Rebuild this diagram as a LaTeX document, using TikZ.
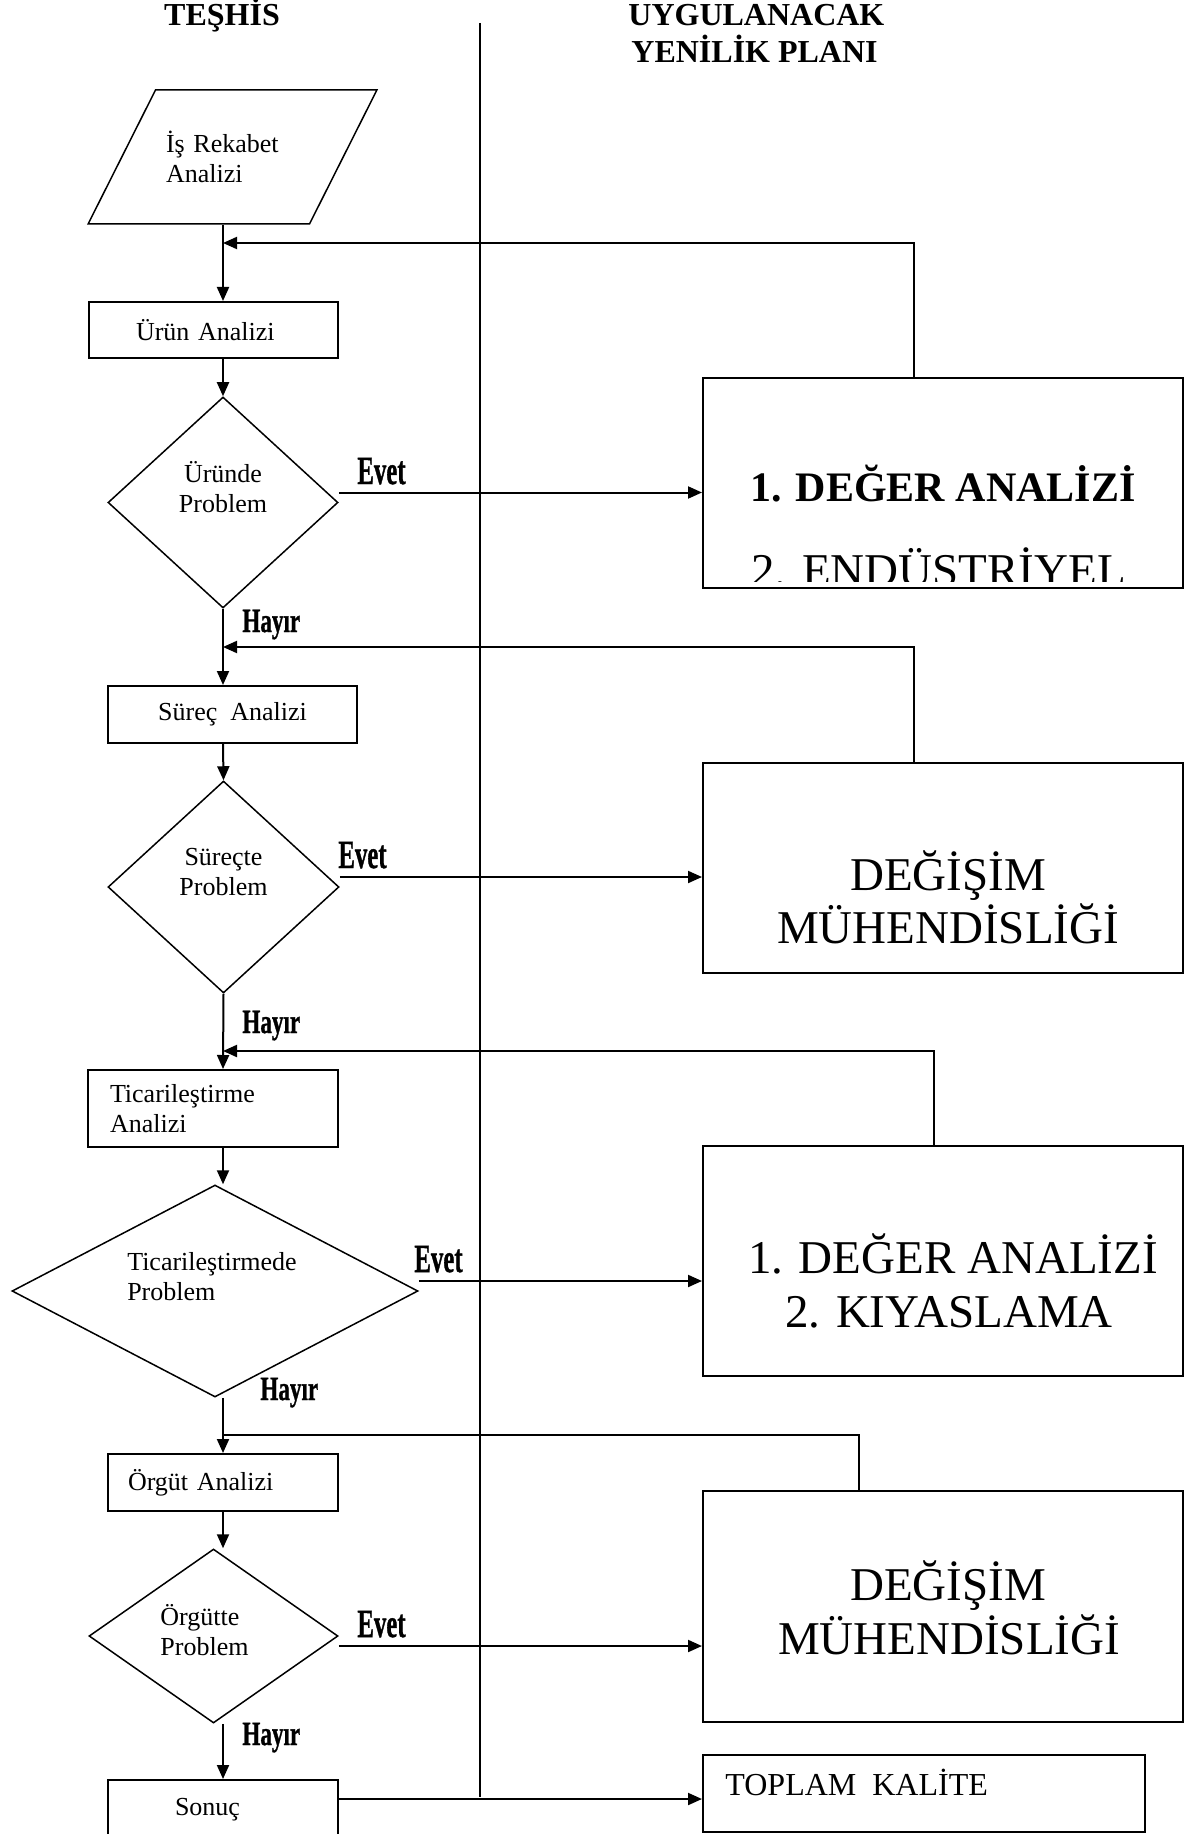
\documentclass[tikz,border=0pt]{standalone}
\usepackage{fontspec}
\setmainfont{Liberation Serif}
\newfontfamily\answerfont[FakeBold=1.2]{Liberation Serif Bold}
\usepackage{graphicx}
\usetikzlibrary{shapes.geometric,arrows.meta}
\newcommand{\narrow}[2]{\scalebox{#1}[1]{#2}}

\begin{document}
\begin{tikzpicture}[x=0.5pt,y=-0.5pt,>={Triangle[length=7pt,width=6pt]}]
  \tikzstyle{small}=[font=\fontsize{13}{15}\selectfont]
  \tikzstyle{box}=[rectangle,draw,line width=1pt,inner sep=0pt,small]
  \tikzstyle{bigbox}=[rectangle,draw,line width=1pt,inner sep=0pt,minimum width=240pt]
  \tikzstyle{decision}=[diamond,draw,line width=0.75pt,inner sep=0pt]
  \tikzstyle{io}=[trapezium,trapezium left angle=41.6,trapezium right angle=138.4,
                  trapezium stretches,draw,line width=0.75pt,inner sep=0pt,small]
  \tikzstyle{title}=[font=\fontsize{16}{18}\bfseries\selectfont,inner sep=0pt,anchor=base]
  \tikzstyle{big}=[font=\fontsize{23.5}{26}\selectfont,inner sep=0pt,anchor=base]
  \tikzstyle{evet}=[font=\fontsize{20}{22}\answerfont,inner sep=0pt,anchor=base west]
  \tikzstyle{hayir}=[font=\fontsize{17}{19}\answerfont,inner sep=0pt,anchor=base west]
  \tikzstyle{flow}=[->,line width=1pt]

  \useasboundingbox (0,0) rectangle (1199,1834);
  \clip (0,0) rectangle (1199,1834);

  % column titles and divider
  \node[title] (teshis) at (222,26) {TEŞHİS};
  \node[title,anchor=base west] (plan1) at (628,26) {UYGULANACAK};
  \node[title,anchor=base west] (plan2) at (631,63) {YENİLİK PLANI};
  \coordinate (divtop) at (480,23);
  \coordinate (divbot) at (480,1797);
  \draw[line width=0.75pt] (divtop) -- (divbot);

  % main line and feedback points
  \coordinate (flow) at (223,0);
  \coordinate (m1) at (223,243);
  \coordinate (m2) at (223,647);
  \coordinate (m3) at (223,1051);
  \coordinate (m4) at (223,1435);
  \coordinate (fb1) at (914,0);
  \coordinate (fb2) at (914,0);
  \coordinate (fb3) at (934,0);
  \coordinate (fb4) at (859,0);

  % left column
  \node[io,minimum width=144.5pt,minimum height=67pt,text width=66.5pt,align=left]
       (rekabet) at (232.5,157) {İş Rekabet\\Analizi};
  \node[box,minimum width=124.5pt,minimum height=28pt,text width=77.5pt,align=left]
       (urun) at (213.5,330) {Ürün Analizi};
  \node[decision,minimum width=115pt,minimum height=105.5pt,
        label={[small,yshift=7.5pt,align=center]center:Üründe\\Problem}]
       (d1) at (223,502.5) {};
  \node[box,minimum width=124.5pt,minimum height=28.5pt]
       (surec) at (232.5,714.5) {Süreç\ \ Analizi};
  \node[decision,minimum width=115.5pt,minimum height=106pt,
        label={[small,yshift=7.5pt,align=center]center:Süreçte\\Problem}]
       (d2) at (223.5,887) {};
  \node[box,minimum width=125pt,minimum height=38.5pt,text width=103pt,align=left]
       (ticaret) at (213,1108.5) {Ticarileştirme\\Analizi};
  \node[decision,minimum width=203pt,minimum height=106pt,
        label={[small,yshift=7pt,xshift=-1.5pt,align=left]center:Ticarileştirmede\\Problem}]
       (d3) at (215,1291) {};
  \node[box,minimum width=115pt,minimum height=28.5pt,text width=95pt,align=left]
       (orgut) at (223,1482.5) {Örgüt Analizi};
  \node[decision,minimum width=124.5pt,minimum height=87pt,
        label={[small,yshift=3pt,xshift=-4.5pt,align=left]center:Örgütte\\Problem}]
       (d4) at (213.5,1636) {};
  \node[box,minimum width=115pt,minimum height=30pt,text width=48pt,align=left]
       (sonuc) at (223,1810) {Sonuç};

  % right column
  \node[bigbox,minimum height=105pt] (deger) at (943,483) {};
  \node[bigbox,minimum height=105pt] (degisim) at (943,868) {};
  \node[bigbox,minimum height=115pt] (kiyas) at (943,1261) {};
  \node[bigbox,minimum height=115.5pt] (orgdegisim) at (943,1606.5) {};
  \node[bigbox,minimum width=221pt,minimum height=38.5pt] (kalite) at (924,1793.5) {};

  \node[big,font=\fontsize{21}{24}\bfseries\selectfont] (deger1) at (943,502) {1. DEĞER ANALİZİ};
  \begin{scope}
    \clip (deger.north west) rectangle ([yshift=4pt]deger.south east);
    \node[big] (deger2) at (938.5,586) {2. ENDÜSTRİYEL};
  \end{scope}
  \node[big] (degisim1) at (948,890) {DEĞİŞİM};
  \node[big] (degisim2) at (948,943) {MÜHENDİSLİĞİ};
  \node[big] (kiyas1) at (953,1273) {1. DEĞER ANALİZİ};
  \node[big] (kiyas2) at (949,1327) {2. KIYASLAMA};
  \node[big] (orgdegisim1) at (948,1600) {DEĞİŞİM};
  \node[big] (orgdegisim2) at (949,1654) {MÜHENDİSLİĞİ};
  \node[font=\fontsize{16}{18}\selectfont,inner sep=0pt,anchor=base west]
       (kalite1) at (725,1795) {TOPLAM\ \ KALİTE};

  % answers
  \node[evet] (evet1) at (357,484) {\narrow{0.62}{Evet}};
  \node[evet] (evet2) at (338,868) {\narrow{0.62}{Evet}};
  \node[evet] (evet3) at (414,1272) {\narrow{0.62}{Evet}};
  \node[evet] (evet4) at (357,1637) {\narrow{0.62}{Evet}};
  \node[hayir] (hayir1) at (242,632) {\narrow{0.68}{Hayır}};
  \node[hayir] (hayir2) at (242,1033) {\narrow{0.68}{Hayır}};
  \node[hayir] (hayir3) at (260,1400) {\narrow{0.68}{Hayır}};
  \node[hayir] (hayir4) at (242,1745) {\narrow{0.68}{Hayır}};

  % connectors
  \draw[flow] (rekabet.south -| flow) -- (urun.north -| flow);
  \draw[flow] (urun.south -| flow) -- (d1.north);
  \draw[flow] ([yshift=5pt]d1.east) -- ([yshift=5pt]d1.east -| deger.west);
  \draw[flow] (d1.south) -- (surec.north -| flow);
  \draw[flow] (deger.north -| fb1) |- (m1);

  \draw[flow] (surec.south -| flow) -- (d2.north);
  \draw[flow] ([yshift=5pt]d2.east) -- ([yshift=5pt]d2.east -| degisim.west);
  \draw[flow] (d2.south) -- (ticaret.north -| flow);
  \draw[flow] (degisim.north -| fb2) |- (m2);

  \draw[flow] (ticaret.south -| flow) -- (d3.north -| flow);
  \draw[flow] ([yshift=5pt]d3.east) -- ([yshift=5pt]d3.east -| kiyas.west);
  \draw[flow] (d3.south -| flow) -- (orgut.north -| flow);
  \draw[flow] (kiyas.north -| fb3) |- (m3);

  \draw[flow] (orgut.south -| flow) -- (d4.north -| flow);
  \draw[flow] ([yshift=-5pt]d4.east) -- ([yshift=-5pt]d4.east -| orgdegisim.west);
  \draw[flow] (d4.south -| flow) -- (sonuc.north -| flow);
  \draw[line width=1pt] (orgdegisim.north -| fb4) |- (m4);

  \draw[flow] ([yshift=5.5pt]sonuc.east) -- ([yshift=5.5pt]sonuc.east -| kalite.west);
\end{tikzpicture}
\end{document}
